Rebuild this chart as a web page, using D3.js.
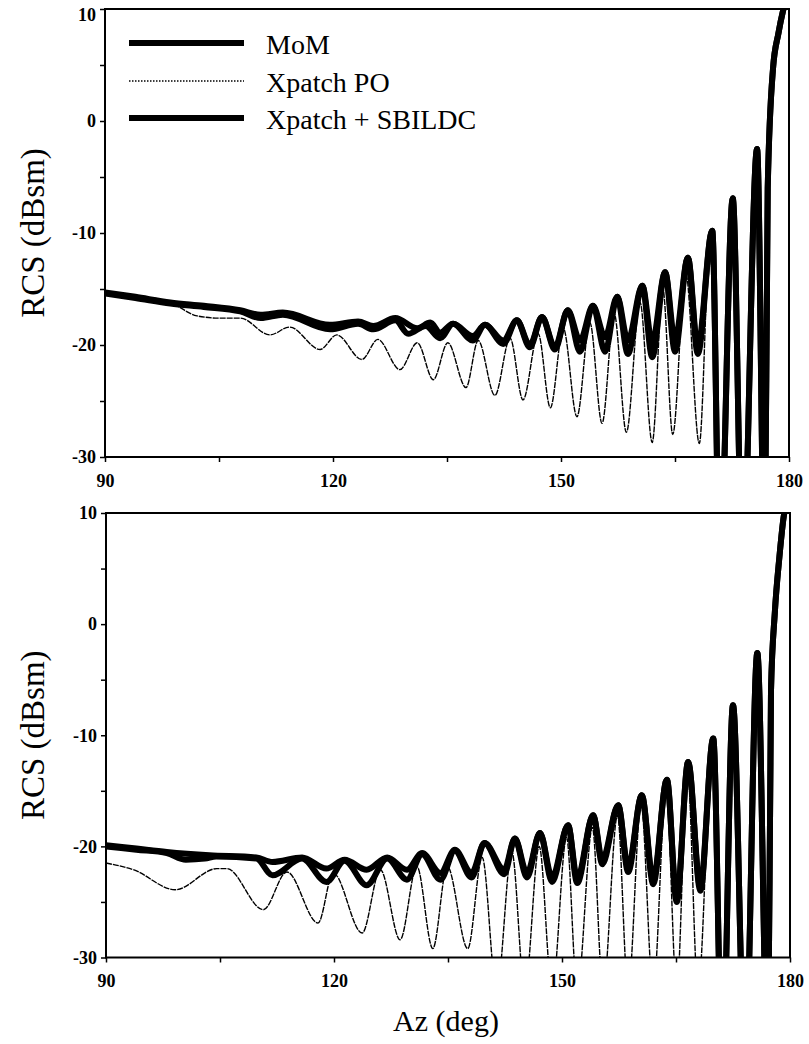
<!DOCTYPE html>
<html>
<head>
<meta charset="utf-8">
<script src="https://cdn.jsdelivr.net/npm/d3@7"></script>
<style>
  body { margin: 0; background: #fff; }
  svg { display: block; }
</style>
</head>
<body>
<div id="chart-area"></div>
<script>
// RCS vs azimuth, two panels, MoM / Xpatch PO / Xpatch + SBILDC

// ---- data (az in deg, RCS in dBsm) ----
var seriesNames = ["MoM", "Xpatch PO", "Xpatch + SBILDC"];
var yTicks = [-30, -25, -20, -15, -10, -5, 0, 5, 10];
var xTicks = [90, 105, 120, 135, 150, 165, 180];

// top panel
var topMoM = [
  [90,-15.3],[94,-15.7],[98.6,-16.2],[103,-16.5],[107.8,-16.9],[110.5,-17.3],[113.4,-17.1],
  [119.6,-18.2],[123.3,-17.9],[125.3,-18.3],[128.2,-17.6],[131.1,-18.5],[132.8,-18.0],
  [134.1,-18.9],[135.8,-18.1],[138.4,-19.2],[140.0,-18.2],[142.4,-19.6],[144.2,-17.8],
  [145.9,-20.0],[147.5,-17.5],[149.2,-20.2],[150.9,-16.9],[152.5,-19.6],[154.2,-16.5],
  [155.8,-19.3],[157.4,-15.7],[158.8,-19.6],[160.7,-14.7],[162.0,-19.8],[163.7,-13.5],
  [165.0,-19.6],[166.7,-12.2],[168.0,-20.2],[169.9,-9.8],[170.9,-40],[172.6,-6.9],
  [173.9,-40],[175.8,-2.5],[176.8,-40],[177.2,-6],[177.9,4.7],[178.6,7.8],[179.2,9.8],[180,11.5]
];
var topPO = [
  [90,-15.3],[94,-15.6],[98.6,-16.2],[102.1,-17.4],[105,-17.6],[107.8,-17.6],[111.7,-19.1],
  [114.3,-18.4],[118.3,-20.4],[120.5,-19.1],[123.8,-21.3],[125.9,-19.5],[128.8,-22.2],
  [131.1,-19.8],[133.2,-23.1],[135.1,-19.8],[137.5,-23.8],[139.1,-19.6],[141.3,-24.5],
  [143.3,-19.4],[145.0,-24.9],[147.0,-19.0],[148.6,-25.6],[150.3,-18.5],[152.1,-26.4],
  [153.8,-18.0],[155.4,-27.0],[157.0,-17.2],[158.6,-27.8],[160.4,-16.2],[162.0,-28.7],
  [163.4,-15.0],[164.7,-28.0],[166.4,-13.5],[168.2,-28.8],[169.6,-10.7],[170.9,-40],
  [172.6,-7.2],[173.9,-40],[175.8,-2.7],[176.8,-40],[177.2,-6],[177.9,4.7],[178.6,7.8],[179.2,9.8],[180,11.5]
];
var topSBILDC = [
  [90,-15.4],[94,-15.8],[98.6,-16.3],[103,-16.6],[107.8,-17.0],[110.5,-17.6],[113.4,-17.3],
  [119.6,-18.6],[123.3,-18.1],[125.3,-18.6],[128.2,-17.8],[129.9,-19.0],[132.2,-18.3],
  [134.1,-19.4],[135.8,-18.1],[138.4,-19.6],[140.0,-18.2],[142.4,-19.9],[144.2,-17.8],
  [145.9,-20.2],[147.5,-17.5],[149.2,-20.4],[150.9,-16.9],[152.5,-20.6],[154.2,-16.5],
  [155.8,-20.6],[157.4,-15.7],[158.8,-20.8],[160.7,-14.7],[162.0,-21.1],[163.7,-13.5],
  [165.0,-20.6],[166.7,-12.2],[168.0,-20.8],[169.9,-9.8],[170.9,-40],[172.6,-6.9],
  [173.9,-40],[175.8,-2.5],[176.8,-40],[177.2,-6],[177.9,4.7],[178.6,7.8],[179.2,9.8],[180,11.5]
];

// bottom panel
var botMoM = [
  [90,-19.9],[94,-20.2],[98,-20.5],[103.6,-20.8],[109.8,-21.0],[111.9,-21.4],[115.8,-21.0],
  [119.0,-22.0],[121.4,-21.2],[124.3,-22.1],[127.0,-21.0],[129.6,-22.1],[131.6,-20.6],
  [134.0,-22.4],[135.9,-20.3],[138.1,-22.4],[139.8,-19.7],[142.4,-22.1],[143.8,-19.3],
  [145.4,-22.4],[147.1,-18.8],[148.7,-22.8],[150.8,-18.1],[152.0,-22.9],[154.1,-17.2],
  [155.3,-21.2],[157.4,-16.3],[158.7,-21.9],[160.5,-15.4],[162.0,-23.0],[163.8,-14.0],
  [165.1,-24.8],[166.6,-12.4],[168.2,-23.7],[169.9,-10.3],[171.1,-40],[172.5,-7.3],
  [174.1,-40],[175.7,-2.6],[177.1,-40],[177.5,-6],[178.0,1],[178.6,6],[179.2,9.8],[180,11.5]
];
var botPO = [
  [90,-21.5],[93.6,-22.1],[99.1,-23.9],[104.6,-22.0],[105.9,-22.0],[110.7,-25.7],[113.8,-22.3],
  [117.9,-26.9],[119.9,-22.4],[123.7,-27.8],[126.1,-22.1],[128.7,-28.4],[130.9,-21.8],
  [133.0,-29.2],[134.9,-21.8],[137.6,-29.2],[139.5,-21.0],[141.4,-33],[143.4,-20.5],
  [145.1,-33],[147.0,-20.0],[148.7,-33],[150.6,-19.2],[152.0,-33],[154.0,-18.3],
  [155.4,-33],[157.3,-17.2],[158.7,-33],[160.4,-16.2],[162.0,-33],[163.7,-14.8],
  [165.1,-33],[166.5,-13.0],[167.9,-33],[169.8,-10.8],[171.1,-40],[172.5,-7.6],
  [174.1,-40],[175.7,-2.8],[177.1,-40],[177.5,-6],[178.0,1],[178.6,6],[179.2,9.8],[180,11.5]
];
var botSBILDC = [
  [90,-20.0],[94,-20.3],[98,-20.6],[100.5,-21.2],[103,-21.1],[104.5,-20.9],[109.8,-21.1],
  [111.9,-22.6],[115.8,-21.1],[119.0,-23.2],[121.4,-21.3],[124.3,-23.5],[127.0,-21.1],
  [129.6,-23.0],[131.6,-20.7],[134.0,-23.0],[135.9,-20.4],[138.1,-22.8],[139.8,-19.7],
  [142.4,-22.5],[143.8,-19.3],[145.4,-22.8],[147.1,-18.8],[148.7,-23.2],[150.8,-18.1],
  [152.0,-23.3],[154.1,-17.2],[155.3,-21.6],[157.4,-16.3],[158.7,-22.3],[160.5,-15.4],
  [162.0,-23.4],[163.8,-14.0],[165.1,-25.0],[166.6,-12.4],[168.2,-24.0],[169.9,-10.3],
  [171.1,-40],[172.5,-7.3],[174.1,-40],[175.7,-2.6],[177.1,-40],[177.5,-6],[178.0,1],
  [178.6,6],[179.2,9.8],[180,11.5]
];

// ---- layout ----
var W = 809, H = 1044;
var serif = "Liberation Serif, Times New Roman, serif";

var panels = [
  { top: 9,   bottom: 457,   left: 105, right: 789, mom: topMoM, po: topPO, sb: topSBILDC, legend: true },
  { top: 513, bottom: 957.5, left: 106, right: 790, mom: botMoM, po: botPO, sb: botSBILDC, legend: false }
];

var svg = d3.select("#chart-area")
  .append("svg")
    .attr("width", W)
    .attr("height", H);

panels.forEach(function(p, i){
  var x = d3.scaleLinear().domain([90, 180]).range([p.left, p.right]);
  var y = d3.scaleLinear().domain([-30, 10]).range([p.bottom, p.top]);

  var g = svg.append("g");

  g.append("clipPath")
      .attr("id", "clip" + i)
    .append("rect")
      .attr("x", p.left)
      .attr("y", p.top)
      .attr("width", p.right - p.left)
      .attr("height", p.bottom - p.top);

  var line = d3.line()
    .x(function(d){ return x(d[0]); })
    .y(function(d){ return y(d[1]); })
    .curve(d3.curveMonotoneX);

  var plot = g.append("g").attr("clip-path", "url(#clip" + i + ")");

  // thick curves
  [p.mom, p.sb].forEach(function(s){
    plot.append("path")
      .datum(s)
      .attr("d", line)
      .attr("fill", "none")
      .attr("stroke", "#000")
      .attr("stroke-width", 6)
      .attr("stroke-linejoin", "round");
  });

  // thin PO
  plot.append("path")
    .datum(p.po)
    .attr("d", line)
    .attr("fill", "none")
    .attr("stroke", "#000")
    .attr("stroke-width", 1.4)
    .attr("stroke-dasharray", "6,1");

  // frame
  g.append("rect")
    .attr("x", p.left)
    .attr("y", p.top)
    .attr("width", p.right - p.left)
    .attr("height", p.bottom - p.top)
    .attr("fill", "none")
    .attr("stroke", "#000")
    .attr("stroke-width", 2);

  // axes
  var yAxis = d3.axisLeft(y)
    .tickValues(yTicks)
    .tickSize(5)
    .tickPadding(4)
    .tickFormat(function(d){ return d % 10 === 0 ? String(d) : ""; });
  var xAxis = d3.axisBottom(x)
    .tickValues(xTicks)
    .tickSize(5)
    .tickPadding(12)
    .tickFormat(function(d){ return d % 30 === 0 ? String(d) : ""; });

  var ya = g.append("g")
    .attr("transform", "translate(" + p.left + ",0)")
    .call(yAxis);
  var xa = g.append("g")
    .attr("transform", "translate(0," + p.bottom + ")")
    .call(xAxis);
  [ya, xa].forEach(function(a){
    a.attr("font-family", serif)
     .attr("font-size", 18)
     .attr("font-weight", "bold");
    a.select(".domain").remove();
    a.selectAll(".tick line").attr("stroke", "#000").attr("stroke-width", 1.5);
    a.selectAll(".tick text").attr("fill", "#000");
  });
  // keep the top "10" inside the page
  if (i === 0) {
    ya.selectAll(".tick text")
      .filter(function(d){ return d === 10; })
      .attr("dy", "0.62em");
  }

  // y axis title
  g.append("text")
    .attr("transform", "rotate(-90)")
    .attr("x", -(p.top + p.bottom) / 2)
    .attr("y", 44)
    .attr("text-anchor", "middle")
    .attr("font-family", serif)
    .attr("font-size", "33px")
    .text("RCS (dBsm)");

  if (p.legend) {
    var legY = [43, 81, 118];
    var styles = [
      { w: 6, dash: null },
      { w: 1.4, dash: "1.5,1.5" },
      { w: 6, dash: null }
    ];
    seriesNames.forEach(function(name, k){
      g.append("line")
        .attr("x1", 129).attr("x2", 244)
        .attr("y1", legY[k]).attr("y2", legY[k])
        .attr("stroke", "#000")
        .attr("stroke-width", styles[k].w)
        .attr("stroke-dasharray", styles[k].dash);
      g.append("text")
        .attr("x", 266)
        .attr("y", legY[k] + 11)
        .attr("font-family", serif)
        .attr("font-size", "28px")
        .text(name);
    });
  }
});

// x axis title
svg.append("text")
  .attr("x", 446)
  .attr("y", 1031)
  .attr("text-anchor", "middle")
  .attr("font-family", serif)
  .attr("font-size", "30px")
  .text("Az (deg)");
</script>
</body>
</html>
